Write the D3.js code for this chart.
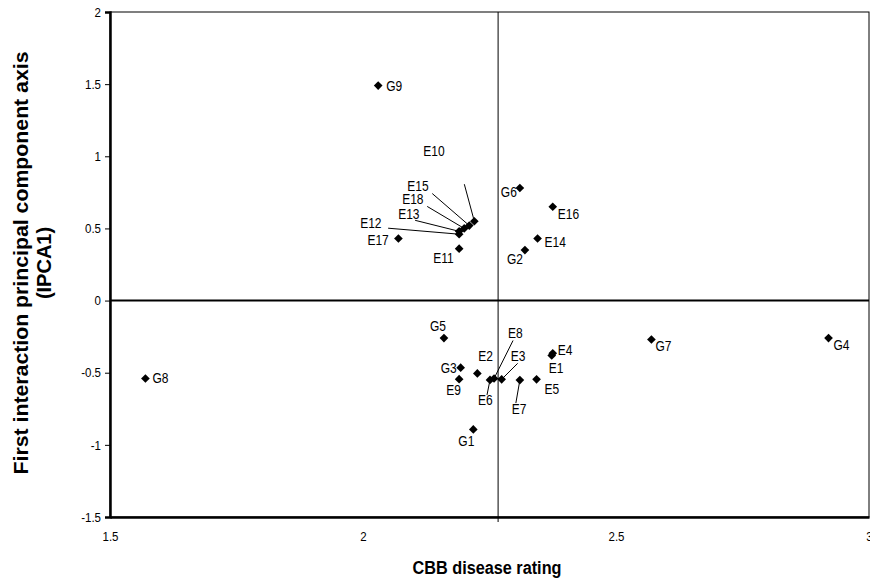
<!DOCTYPE html>
<html>
<head>
<meta charset="utf-8">
<script src="https://cdn.jsdelivr.net/npm/d3@7"></script>
<style>
  body { margin: 0; background: #fff; }
  text { font-family: "Liberation Sans", Arial, sans-serif; fill: #000; }
  .lbl { font-size: 12px; }
  .tick text { font-size: 11.5px; }
  .title { font-weight: bold; }
</style>
</head>
<body>
<div id="chart"></div>
<script>
// data: genotypes (G) and environments (E)
var names   = ['G1','G2','G3','G4','G5','G6','G7','G8','G9',
               'E1','E2','E3','E4','E5','E6','E7','E8','E9',
               'E10','E11','E12','E13','E14','E15','E16','E17','E18'];
var rating  = [2.218, 2.32, 2.193, 2.92, 2.16, 2.31, 2.57, 1.57, 2.03,
               2.373, 2.226, 2.274, 2.375, 2.343, 2.251, 2.31, 2.259, 2.19,
               2.22, 2.19, 2.19, 2.19, 2.345, 2.21, 2.375, 2.07, 2.20];
var ipca1   = [-0.893, 0.35, -0.465, -0.26, -0.26, 0.78, -0.27, -0.54, 1.49,
               -0.38, -0.505, -0.546, -0.365, -0.546, -0.55, -0.551, -0.54, -0.545,
               0.55, 0.36, 0.46, 0.48, 0.43, 0.52, 0.65, 0.43, 0.50];
var meanRating = 2.267;
var xTicks = [1.5, 2, 2.5, 3];
var yTicks = [-1.5, -1, -0.5, 0, 0.5, 1, 1.5, 2];

// label placement (pixels from marker): [dx, dy] and optional leader start [lx, ly]
var labelPos = {
  G1:[-15,17], G2:[-18,14], G3:[-20,5], G4:[5,12], G5:[-14,-7], G6:[-19,9],
  G7:[4,11], G8:[7,5], G9:[8,5],
  E1:[-3,18], E2:[1,-12], E3:[9,-18,16,-16], E4:[5,2], E5:[8,15],
  E6:[-12,25,-3,15], E7:[-8,34,-4,23], E8:[14,-40,19,-38], E9:[-13,16],
  E10:[-51,-65,-10,-37], E11:[-26,14], E12:[-99,-6,-71,-6], E13:[-61,-12,-44,-11],
  E14:[7,8], E15:[-62,-35,-37,-32], E16:[5,12], E17:[-31,6], E18:[-62,-24,-37,-22]
};

var width = 870, height = 587;
var margin = {top: 12, right: 1, bottom: 70, left: 110};
var stretch = 1.15; // text in the source is slightly taller than wide

var svg = d3.select('#chart').append('svg')
  .attr('width', width).attr('height', height);

var x = d3.scaleLinear().domain([1.5, 3]).range([margin.left, width - margin.right]);
var y = d3.scaleLinear().domain([-1.5, 2]).range([height - margin.bottom, margin.top]);

// frame
svg.append('rect')
  .attr('x', x(1.5)).attr('y', y(2))
  .attr('width', x(3) - x(1.5)).attr('height', y(-1.5) - y(2))
  .attr('fill', 'none').attr('stroke', '#000').attr('stroke-width', 1);

// axes
var yAxis = d3.axisLeft(y).tickValues(yTicks).tickSize(5).tickPadding(4)
  .tickFormat(function(d){ return String(d); });
svg.append('g').attr('transform', 'translate(' + x(1.5) + ',0)').call(yAxis)
  .call(function(g){
    g.select('.domain').attr('stroke-width', 2.5);
    g.selectAll('.tick text').attr('transform', 'scale(1,' + stretch + ')');
  });

var xa = d3.axisBottom(x).tickValues(xTicks).tickSize(0).tickPadding(13)
  .tickFormat(function(d){ return String(d); });
svg.append('g').attr('transform', 'translate(0,' + y(-1.5) + ')').call(xa)
  .call(function(g){
    g.select('.domain').attr('stroke-width', 2.5);
    g.selectAll('.tick text').attr('transform', 'scale(1,' + stretch + ')');
  });

// reference lines
svg.append('line')
  .attr('x1', x(1.5)).attr('x2', x(3)).attr('y1', y(0)).attr('y2', y(0))
  .attr('stroke', '#000').attr('stroke-width', 2);
svg.append('line')
  .attr('x1', x(meanRating)).attr('x2', x(meanRating))
  .attr('y1', y(2)).attr('y2', y(-1.5) + 5)
  .attr('stroke', '#000').attr('stroke-width', 1);

var pts = names.map(function(n, i){ return {name: n, x: rating[i], y: ipca1[i]}; });

// leader lines
svg.selectAll('.leader')
  .data(pts.filter(function(d){ return labelPos[d.name].length > 2; }))
  .enter().append('line')
  .attr('class', 'leader')
  .attr('x1', function(d){ return x(d.x) + labelPos[d.name][2]; })
  .attr('y1', function(d){ return y(d.y) + labelPos[d.name][3]; })
  .attr('x2', function(d){ return x(d.x); })
  .attr('y2', function(d){ return y(d.y); })
  .attr('stroke', '#000').attr('stroke-width', 1);

// markers
var diamond = d3.symbol().type(d3.symbolDiamond2).size(48);
svg.selectAll('.pt').data(pts).enter().append('path')
  .attr('class', 'pt')
  .attr('d', diamond)
  .attr('transform', function(d){ return 'translate(' + x(d.x) + ',' + y(d.y) + ')'; })
  .attr('fill', '#000');

// labels
svg.selectAll('.lbl').data(pts).enter().append('text')
  .attr('class', 'lbl')
  .attr('transform', function(d){
    return 'translate(' + (x(d.x) + labelPos[d.name][0]) + ',' +
      (y(d.y) + labelPos[d.name][1]) + ') scale(1,' + stretch + ')';
  })
  .text(function(d){ return d.name; });

// titles
svg.append('text').attr('class', 'title')
  .attr('x', 487).attr('y', 574)
  .attr('text-anchor', 'middle')
  .style('font-size', '18px')
  .attr('textLength', 149).attr('lengthAdjust', 'spacingAndGlyphs')
  .text('CBB disease rating');

var yt = svg.append('g')
  .attr('transform', 'translate(28,263) rotate(-90)');
yt.append('text').attr('class', 'title')
  .attr('x', 0).attr('y', 0)
  .attr('text-anchor', 'middle')
  .style('font-size', '20px')
  .attr('textLength', 423).attr('lengthAdjust', 'spacingAndGlyphs')
  .text('First interaction principal component axis');
yt.append('text').attr('class', 'title')
  .attr('x', 0).attr('y', 23)
  .attr('text-anchor', 'middle')
  .style('font-size', '20px')
  .text('(IPCA1)');
</script>
</body>
</html>
